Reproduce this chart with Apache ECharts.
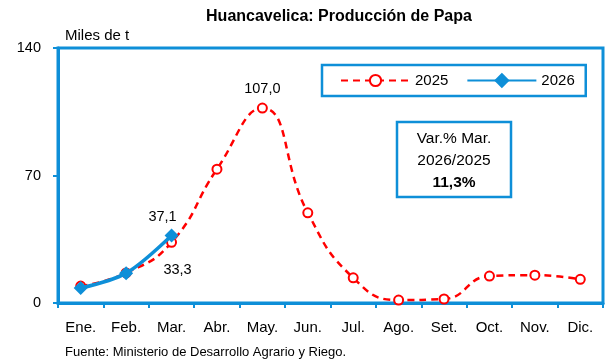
<!DOCTYPE html>
<html>
<head>
<meta charset="utf-8">
<script src="https://cdn.jsdelivr.net/npm/echarts@6/dist/echarts.min.js"></script>
<style>
  html, body { margin: 0; padding: 0; background: #fff; }
  #chart { width: 605px; height: 362px; }
</style>
</head>
<body>
<div id="chart"></div>
<script>
// Monthly potato production, Huancavelica (thousand tonnes)
const months = ['Ene.', 'Feb.', 'Mar.', 'Abr.', 'May.', 'Jun.', 'Jul.', 'Ago.', 'Set.', 'Oct.', 'Nov.', 'Dic.'];
const prod2025 = [9.3, 16.5, 33.3, 73.5, 107.0, 49.5, 13.8, 1.6, 2.2, 14.8, 15.3, 13.0];
const prod2026 = [8.2, 16.4, 37.1];
const yTicks = [0, 70, 140];

const BLUE = '#0e8fd8';
const RED = '#ff0000';
const FONT = '"Liberation Sans", Arial, sans-serif';

const chart = echarts.init(document.getElementById('chart'), null, { renderer: 'canvas' });

chart.setOption({
  animation: false,
  textStyle: { fontFamily: FONT, color: '#000' },
  grid: {
    left: 58, right: 2, top: 48, bottom: 59,
    show: true, borderColor: BLUE, borderWidth: 3, backgroundColor: 'transparent'
  },
  legend: {
    left: 322, top: 65,
    padding: [8, 11, 8, 18],
    itemGap: 18, itemWidth: 69, itemHeight: 14,
    borderColor: BLUE, borderWidth: 2.5,
    textStyle: { fontFamily: FONT, fontSize: 15, color: '#000' },
    data: [
      { name: '2025' },
      { name: '2026', itemStyle: { borderColor: BLUE, borderWidth: 3 } }
    ]
  },
  xAxis: {
    type: 'category',
    data: months,
    boundaryGap: true,
    axisLine: { lineStyle: { color: BLUE, width: 3 } },
    axisTick: { show: true, alignWithLabel: false, length: 5, lineStyle: { color: BLUE, width: 2 } },
    axisLabel: { interval: 0, fontFamily: FONT, fontSize: 15, color: '#000', margin: 17 }
  },
  yAxis: {
    type: 'value',
    min: 0, max: 140, interval: 70,
    splitLine: { show: false },
    axisLine: { show: true, lineStyle: { color: BLUE, width: 3 } },
    axisTick: { show: true, length: 5, lineStyle: { color: BLUE, width: 2 } },
    axisLabel: {
      fontFamily: FONT, fontSize: 14.5, color: '#000', margin: 17,
      formatter: v => (yTicks.includes(v) ? String(v) : '')
    }
  },
  series: [
    {
      name: '2025',
      type: 'line',
      smooth: 0.5,
      data: prod2025,
      symbol: 'emptyCircle',
      symbolSize: 9,
      color: RED,
      lineStyle: { color: RED, width: 2.5, type: [7, 5] },
      itemStyle: { color: RED, borderWidth: 3 },
      label: {
        show: true,
        fontFamily: FONT, fontSize: 14.5, color: '#000',
        formatter: p => (p.dataIndex === 4 ? '107,0' : p.dataIndex === 2 ? '33,3' : ''),
      },
      labelLayout: p => (p.dataIndex === 2 ? { dx: 6, dy: 46 } : { dy: -1 }),
      z: 2
    },
    {
      name: '2026',
      type: 'line',
      smooth: 0.3,
      data: prod2026,
      symbol: 'diamond',
      symbolSize: 14,
      color: BLUE,
      lineStyle: { color: BLUE, width: 3.5 },
      itemStyle: { color: BLUE },
      label: {
        show: true,
        fontFamily: FONT, fontSize: 14.5, color: '#000',
        formatter: p => (p.dataIndex === 2 ? '37,1' : '')
      },
      labelLayout: { dx: -9, dy: 1 },
      z: 3
    }
  ],
  graphic: [
    {
      type: 'text', x: 339, y: 17, z: 11,
      style: { text: 'Huancavelica: Producción de Papa', align: 'center', verticalAlign: 'middle',
               font: 'bold 16px ' + FONT, fill: '#000' }
    },
    {
      type: 'text', x: 65, y: 36, z: 11,
      style: { text: 'Miles de t', verticalAlign: 'middle', font: '15px ' + FONT, fill: '#000' }
    },
    {
      type: 'rect',
      x: 397, y: 122,
      shape: { width: 114, height: 75 },
      style: { fill: '#fff', stroke: BLUE, lineWidth: 2.5 },
      z: 10
    },
    {
      type: 'text', x: 454, y: 139, z: 11,
      style: { text: 'Var.% Mar.', align: 'center', verticalAlign: 'middle', font: '15.5px ' + FONT, fill: '#000' }
    },
    {
      type: 'text', x: 454, y: 161, z: 11,
      style: { text: '2026/2025', align: 'center', verticalAlign: 'middle', font: '15.5px ' + FONT, fill: '#000' }
    },
    {
      type: 'text', x: 454, y: 183, z: 11,
      style: { text: '11,3%', align: 'center', verticalAlign: 'middle', font: 'bold 15.5px ' + FONT, fill: '#000' }
    },
    {
      type: 'text', x: 65, y: 352, z: 11,
      style: { text: 'Fuente: Ministerio de Desarrollo Agrario y Riego.', verticalAlign: 'middle',
               font: '13px ' + FONT, fill: '#000' }
    }
  ]
});
</script>
</body>
</html>
